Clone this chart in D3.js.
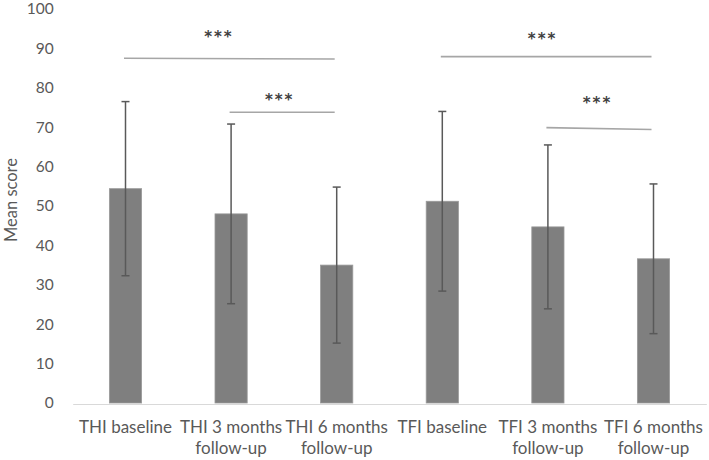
<!DOCTYPE html>
<html><head><meta charset="utf-8">
<script src="https://cdn.jsdelivr.net/npm/d3@7"></script>
<style>body{margin:0;background:#fff;} svg{display:block;}</style>
</head><body>
<svg id="c" width="709" height="460"></svg>
<script>
const categories = [["THI baseline"],["THI 3 months","follow-up"],["THI 6 months","follow-up"],["TFI baseline"],["TFI 3 months","follow-up"],["TFI 6 months","follow-up"]];
const means = [54.4, 48.0, 35.0, 51.2, 44.7, 36.6];
const sds = [22.1, 22.8, 19.8, 22.8, 20.8, 19.0];
const yTicks = [0,10,20,30,40,50,60,70,80,90,100];
// significance brackets: from/to category index, level (score units) at start and end
const sigFrom = [0, 1, 3, 4];
const sigTo = [2, 2, 5, 5];
const sigLevelA = [87.5, 73.8, 87.9, 69.9];
const sigLevelB = [87.3, 73.8, 87.9, 69.4];
const sigLabel = ["***","***","***","***"];
const starPos = [0.885, 1.46, 3.95, 4.47];
const starLevel = [93.6, 77.6, 93.1, 76.8];

const svg = d3.select("#c");
const mLeft = 72.7, mRight = 706.3, mTop = 9, mBottom = 403;
const idx = d3.range(categories.length);
const x = d3.scaleBand().domain(idx).range([mLeft, mRight]).paddingInner(0.695).paddingOuter(0.3475);
const y = d3.scaleLinear().domain([0,100]).range([mBottom, mTop]);
const cx = i => x(0) + x.bandwidth()/2 + i * x.step();
const font = "Lato, 'Open Sans', sans-serif";

// y axis tick labels
const ya = svg.append("g").attr("transform",`translate(${mLeft-19},0)`)
  .call(d3.axisLeft(y).tickValues(yTicks).tickSize(0).tickPadding(0));
ya.select(".domain").remove();
ya.selectAll("text").attr("font-family",font).attr("font-size",15.5).attr("fill","#595959");

// bars
svg.selectAll("rect.bar").data(idx).enter().append("rect")
  .attr("x", i => x(i)).attr("width", x.bandwidth())
  .attr("y", i => y(means[i])).attr("height", i => y(0)-y(means[i]))
  .attr("fill","#7f7f7f").attr("stroke","#9a9a9a").attr("stroke-width",0.8);

// baseline axis
svg.append("g").attr("transform",`translate(0,${mBottom+1})`)
  .call(d3.axisBottom(x).tickSize(0).tickFormat(""))
  .call(g => g.select(".domain").attr("stroke","#d9d9d9").attr("stroke-width",1.2));

// error bars
const eb = svg.append("g").attr("stroke","#595959").attr("stroke-width",1.5);
idx.forEach(i => {
  const c = cx(i);
  eb.append("line").attr("x1",c).attr("x2",c).attr("y1",y(means[i]+sds[i])).attr("y2",y(means[i]-sds[i]));
  eb.append("line").attr("x1",c-4).attr("x2",c+4).attr("y1",y(means[i]+sds[i])).attr("y2",y(means[i]+sds[i]));
  eb.append("line").attr("x1",c-4).attr("x2",c+4).attr("y1",y(means[i]-sds[i])).attr("y2",y(means[i]-sds[i]));
});

// x labels
idx.forEach(i => {
  const t = svg.append("text").attr("x",cx(i)).attr("y",433).attr("text-anchor","middle")
    .attr("font-family",font).attr("font-size",17).attr("fill","#595959");
  categories[i].forEach((s,k) => t.append("tspan").attr("x",cx(i)).attr("dy",k?20.5:0).text(s));
});

// significance lines
sigFrom.forEach((f,k) => {
  svg.append("line").attr("x1",cx(f)-1.5).attr("x2",cx(sigTo[k])-2)
    .attr("y1",y(sigLevelA[k])).attr("y2",y(sigLevelB[k]))
    .attr("stroke","#a6a6a6").attr("stroke-width",1.6);
  svg.append("text").attr("x",cx(starPos[k])).attr("y",y(starLevel[k])+8)
    .attr("text-anchor","middle").attr("font-family","'DejaVu Sans', sans-serif")
    .attr("font-size",15).attr("font-weight","bold").attr("letter-spacing",2).attr("fill","#404040")
    .text(sigLabel[k]);
});

// y axis title
svg.append("text").attr("transform",`translate(17,${200}) rotate(-90)`).attr("text-anchor","middle")
  .attr("font-family",font).attr("font-size",16.5).attr("fill","#595959").text("Mean score");
</script>
</body></html>
